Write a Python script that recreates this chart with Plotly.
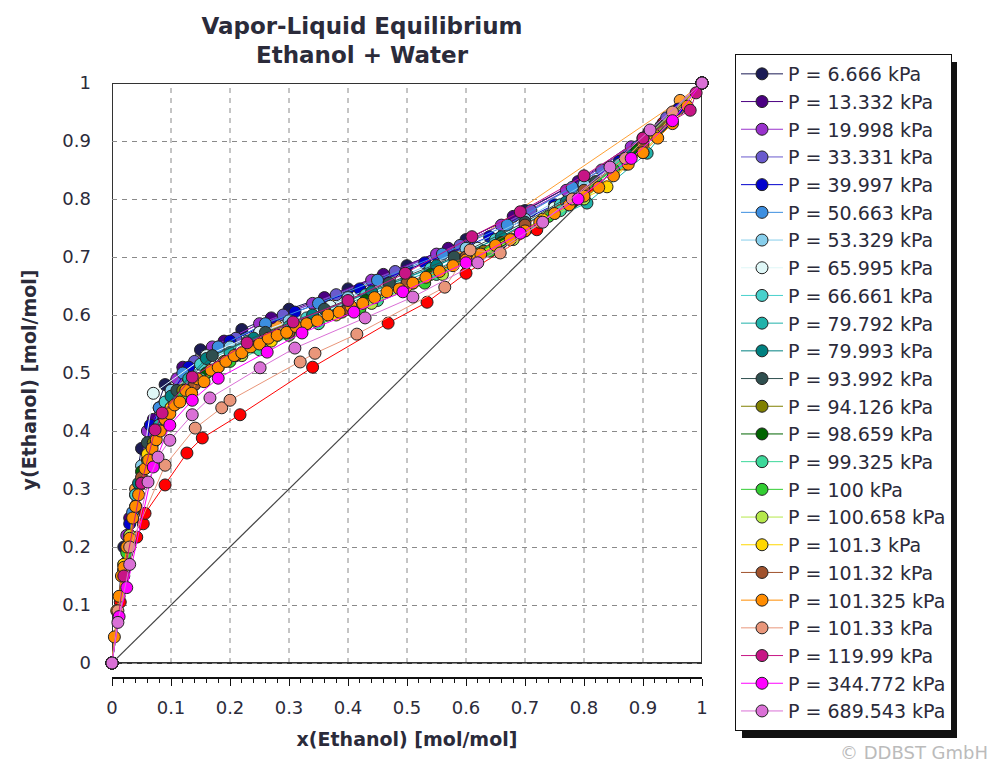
import plotly.graph_objects as go

# ---------------- data ----------------
pressures = ["6.666", "13.332", "19.998", "33.331", "39.997", "50.663", "53.329", "65.995",
             "66.661", "79.792", "79.993", "93.992", "94.126", "98.659", "99.325", "100",
             "100.658", "101.3", "101.32", "101.325", "101.33", "119.99", "344.772", "689.543"]

colors = ["#1b1b55", "#4b0082", "#9932cc", "#6a5acd", "#0000cd", "#3c8ee0", "#87ceeb", "#dff7f7",
          "#48d1cc", "#20b2aa", "#008080", "#2f4f4f", "#808000", "#006400", "#3cd89a", "#32cd32",
          "#b5e84a", "#ffd700", "#a0522d", "#ff8c00", "#e9967a", "#c71585", "#ff00ff", "#da70d6"]

x_data = [
    [0.0, 0.02, 0.05, 0.09, 0.15, 0.22, 0.30, 0.40, 0.50, 0.60, 0.70, 0.80, 0.90, 1.0],
    [0.0, 0.03, 0.07, 0.12, 0.19, 0.27, 0.36, 0.46, 0.57, 0.68, 0.79, 0.91, 1.0],
    [0.0, 0.025, 0.06, 0.11, 0.17, 0.25, 0.34, 0.44, 0.55, 0.66, 0.77, 0.88, 1.0],
    [0.0, 0.04, 0.08, 0.14, 0.21, 0.29, 0.38, 0.48, 0.59, 0.71, 0.83, 0.94, 1.0],
    [0.0, 0.03, 0.065, 0.13, 0.20, 0.31, 0.42, 0.53, 0.64, 0.75, 0.86, 0.96, 1.0],
    [0.0, 0.035, 0.08, 0.12, 0.18, 0.26, 0.35, 0.45, 0.56, 0.67, 0.78, 0.89, 1.0],
    [0.0, 0.05, 0.10, 0.20, 0.30, 0.40, 0.50, 0.60, 0.70, 0.80, 0.90, 1.0],
    [0.0, 0.07, 0.16, 0.25, 0.37, 0.49, 0.62, 0.75, 0.87, 1.0],
    [0.0, 0.04, 0.09, 0.15, 0.23, 0.33, 0.43, 0.54, 0.65, 0.76, 0.87, 1.0],
    [0.0, 0.03, 0.08, 0.13, 0.20, 0.30, 0.40, 0.50, 0.60, 0.70, 0.805, 0.907, 1.0],
    [0.0, 0.045, 0.10, 0.16, 0.24, 0.34, 0.44, 0.55, 0.66, 0.77, 0.88, 1.0],
    [0.0, 0.02, 0.06, 0.11, 0.17, 0.26, 0.36, 0.47, 0.58, 0.70, 0.82, 0.93, 1.0],
    [0.0, 0.03, 0.07, 0.12, 0.19, 0.28, 0.39, 0.51, 0.63, 0.75, 0.87, 1.0],
    [0.0, 0.02, 0.05, 0.10, 0.16, 0.24, 0.33, 0.43, 0.54, 0.66, 0.78, 0.89, 1.0],
    [0.0, 0.04, 0.09, 0.15, 0.25, 0.35, 0.45, 0.55, 0.65, 0.76, 0.86, 1.0],
    [0.0, 0.025, 0.06, 0.12, 0.20, 0.30, 0.42, 0.53, 0.64, 0.74, 0.85, 1.0],
    [0.0, 0.03, 0.08, 0.14, 0.22, 0.32, 0.44, 0.56, 0.68, 0.80, 0.90, 1.0],
    [0.0, 0.02, 0.06, 0.10, 0.18, 0.27, 0.38, 0.50, 0.62, 0.73, 0.839, 0.92, 1.0],
    [0.0, 0.02, 0.05, 0.09, 0.14, 0.21, 0.30, 0.40, 0.50, 0.60, 0.70, 0.80, 0.90, 1.0],
    [0.0, 0.004, 0.008, 0.012, 0.016, 0.02, 0.025, 0.03, 0.035, 0.04, 0.045, 0.05, 0.056,
     0.062, 0.068, 0.075, 0.082, 0.09, 0.098, 0.106, 0.115, 0.125, 0.135, 0.145, 0.156,
     0.168, 0.18, 0.193, 0.207, 0.22, 0.235, 0.25, 0.265, 0.28, 0.296, 0.312, 0.33, 0.348,
     0.366, 0.385, 0.405, 0.425, 0.445, 0.466, 0.487, 0.51, 0.532, 0.555, 0.578, 0.60,
     0.625, 0.65, 0.675, 0.70, 0.725, 0.75, 0.775, 0.80, 0.825, 0.85, 0.875, 0.90, 0.925,
     0.95, 0.975, 1.0],
    [0.0, 0.01, 0.03, 0.09, 0.141, 0.186, 0.20, 0.319, 0.344, 0.415, 0.564, 0.607, 0.658,
     0.78, 0.87, 0.95, 1.0],
    [0.0, 0.02, 0.05, 0.073, 0.085, 0.136, 0.229, 0.307, 0.40, 0.497, 0.61, 0.692, 0.80,
     0.90, 0.98, 0.99, 1.0],
    [0.0, 0.012, 0.025, 0.07, 0.098, 0.136, 0.18, 0.263, 0.322, 0.41, 0.493, 0.60, 0.692,
     0.79, 0.88, 0.95, 1.0],
    [0.0, 0.01, 0.03, 0.061, 0.078, 0.098, 0.136, 0.166, 0.251, 0.31, 0.429, 0.51, 0.62,
     0.73, 0.844, 0.912, 1.0],
]

y_data = [
    [0.0, 0.20, 0.37, 0.48, 0.54, 0.575, 0.61, 0.645, 0.685, 0.73, 0.78, 0.835, 0.905, 1.0],
    [0.0, 0.25, 0.42, 0.51, 0.555, 0.595, 0.63, 0.67, 0.715, 0.77, 0.83, 0.915, 1.0],
    [0.0, 0.22, 0.40, 0.49, 0.545, 0.585, 0.62, 0.66, 0.705, 0.755, 0.815, 0.89, 1.0],
    [0.0, 0.29, 0.44, 0.52, 0.56, 0.60, 0.635, 0.675, 0.72, 0.78, 0.85, 0.94, 1.0],
    [0.0, 0.24, 0.41, 0.51, 0.555, 0.605, 0.645, 0.69, 0.735, 0.79, 0.865, 0.955, 1.0],
    [0.0, 0.26, 0.44, 0.50, 0.545, 0.585, 0.62, 0.66, 0.705, 0.755, 0.82, 0.89, 1.0],
    [0.0, 0.34, 0.47, 0.545, 0.59, 0.63, 0.67, 0.715, 0.765, 0.825, 0.90, 1.0],
    [0.0, 0.465, 0.53, 0.57, 0.615, 0.66, 0.715, 0.785, 0.87, 1.0],
    [0.0, 0.29, 0.45, 0.515, 0.555, 0.595, 0.635, 0.68, 0.73, 0.79, 0.865, 1.0],
    [0.0, 0.22, 0.41, 0.49, 0.535, 0.58, 0.62, 0.66, 0.70, 0.745, 0.793, 0.879, 1.0],
    [0.0, 0.31, 0.46, 0.525, 0.56, 0.60, 0.64, 0.685, 0.735, 0.795, 0.875, 1.0],
    [0.0, 0.17, 0.38, 0.47, 0.53, 0.57, 0.61, 0.655, 0.70, 0.76, 0.83, 0.925, 1.0],
    [0.0, 0.21, 0.38, 0.47, 0.52, 0.565, 0.605, 0.655, 0.71, 0.775, 0.86, 1.0],
    [0.0, 0.16, 0.33, 0.44, 0.50, 0.545, 0.585, 0.625, 0.67, 0.725, 0.795, 0.885, 1.0],
    [0.0, 0.27, 0.42, 0.49, 0.54, 0.585, 0.625, 0.67, 0.715, 0.78, 0.86, 1.0],
    [0.0, 0.19, 0.35, 0.46, 0.52, 0.565, 0.61, 0.655, 0.71, 0.77, 0.85, 1.0],
    [0.0, 0.22, 0.40, 0.48, 0.53, 0.575, 0.62, 0.67, 0.73, 0.80, 0.88, 1.0],
    [0.0, 0.17, 0.36, 0.44, 0.51, 0.555, 0.60, 0.65, 0.705, 0.765, 0.821, 0.91, 1.0],
    [0.0, 0.16, 0.32, 0.42, 0.48, 0.53, 0.57, 0.61, 0.655, 0.70, 0.755, 0.815, 0.895, 1.0],
    [0.0, 0.045, 0.09, 0.115, 0.15, 0.165, 0.20, 0.215, 0.25, 0.27, 0.29, 0.31, 0.335,
     0.35, 0.37, 0.385, 0.40, 0.42, 0.43, 0.445, 0.45, 0.47, 0.465, 0.49, 0.485, 0.505,
     0.51, 0.52, 0.53, 0.535, 0.545, 0.55, 0.56, 0.565, 0.57, 0.58, 0.585, 0.59, 0.60,
     0.605, 0.615, 0.62, 0.63, 0.64, 0.645, 0.655, 0.665, 0.675, 0.685, 0.695, 0.705, 0.72,
     0.73, 0.745, 0.76, 0.775, 0.79, 0.805, 0.82, 0.84, 0.86, 0.88, 0.905, 0.93, 0.96, 1.0],
    [0.0, 0.09, 0.20, 0.341, 0.405, 0.44, 0.453, 0.519, 0.534, 0.567, 0.648, 0.712, 0.707,
     0.80, 0.87, 0.95, 1.0],
    [0.0, 0.15, 0.31, 0.402, 0.431, 0.493, 0.552, 0.588, 0.625, 0.672, 0.735, 0.778, 0.84,
     0.905, 0.953, 0.983, 1.0],
    [0.0, 0.08, 0.13, 0.338, 0.41, 0.453, 0.491, 0.536, 0.569, 0.605, 0.64, 0.69, 0.741,
     0.80, 0.87, 0.935, 1.0],
    [0.0, 0.07, 0.17, 0.312, 0.355, 0.384, 0.428, 0.457, 0.509, 0.543, 0.595, 0.631, 0.69,
     0.76, 0.855, 0.919, 1.0],
]

# series not listed in the visible part of the legend
extra_colors = ["#ff0000", "#ffa033"]
extra_x = [
    [0.0, 0.014, 0.042, 0.053, 0.056, 0.09, 0.127, 0.153, 0.217, 0.34, 0.468, 0.534, 0.60,
     0.72, 0.807, 0.88, 0.934],
    [0.0, 0.04, 0.12, 0.28, 0.45, 0.59, 0.963, 1.0],
]
extra_y = [
    [0.0, 0.105, 0.217, 0.24, 0.258, 0.307, 0.362, 0.388, 0.428, 0.51, 0.586, 0.622, 0.672,
     0.747, 0.82, 0.88, 0.931],
    [0.0, 0.30, 0.48, 0.58, 0.66, 0.712, 0.97, 1.0],
]

diag_x = [0, 1]
diag_y = [0, 1]

tick_vals = [0, 0.1, 0.2, 0.3, 0.4, 0.5, 0.6, 0.7, 0.8, 0.9, 1]
tick_text = ["0", "0.1", "0.2", "0.3", "0.4", "0.5", "0.6", "0.7", "0.8", "0.9", "1"]

FONT = "DejaVu Sans, Verdana, sans-serif"
TXT = "#2b2b3a"

# page body has an 8px margin; layout coordinates below are in screen pixels
OFF = 8
L, R, T, B = 112 - OFF, 1002 - (702 - OFF), 83 - OFF, 765 - (677 - OFF)
PW, PH = 590, 594


def px(sx):
    return (sx - 112) / PW


def py(sy):
    return (677 - sy) / PH


fig = go.Figure()

fig.add_trace(go.Scatter(x=diag_x, y=diag_y, mode="lines", showlegend=False,
                         line=dict(color="#444444", width=1.2), hoverinfo="skip"))

for xs, ys, c in zip(extra_x, extra_y, extra_colors):
    fig.add_trace(go.Scatter(x=xs, y=ys, mode="lines+markers", showlegend=False,
                             line=dict(color=c, width=1),
                             marker=dict(color=c, size=12, line=dict(color="#222222", width=1)),
                             cliponaxis=False))

for p, c, xs, ys in zip(pressures, colors, x_data, y_data):
    fig.add_trace(go.Scatter(x=xs, y=ys, mode="lines+markers", name=f"P = {p} kPa",
                             line=dict(color=c, width=1),
                             marker=dict(color=c, size=12, line=dict(color="#222222", width=1)),
                             cliponaxis=False))

shapes = []
for v in tick_vals[1:-1]:
    shapes.append(dict(type="line", xref="x", yref="y", x0=v, x1=v, y0=0, y1=1,
                       line=dict(color="#8a8a8a", width=1, dash="5px,5px"), layer="below"))
shapes.append(dict(type="rect", xref="x", yref="y", x0=0, x1=1, y0=0, y1=1,
                   line=dict(color="#333333", width=2), layer="below"))
# legend shadow
shapes.append(dict(type="rect", xref="paper", yref="paper",
                   x0=px(742), x1=px(957), y0=py(738), y1=py(62),
                   fillcolor="#111111", line=dict(width=0), layer="above"))

fig.update_layout(
    width=1002, height=765,
    margin=dict(l=L, r=R, t=T, b=B, autoexpand=False),
    paper_bgcolor="white", plot_bgcolor="white",
    font=dict(family=FONT, color=TXT, size=18),
    title=dict(text="<b>Vapor-Liquid Equilibrium<br>Ethanol + Water</b>",
               x=(362 - OFF) / 1002, xanchor="center", y=1 - 25.5 / 765, yanchor="middle",
               font=dict(size=23, color=TXT, family=FONT)),
    xaxis=dict(range=[0, 1], tickvals=tick_vals, ticktext=tick_text, showgrid=False,
               automargin=False,
               zeroline=False, showline=True, linecolor="#111111", linewidth=2,
               ticks="outside", ticklen=7, tickcolor="#111111", tickwidth=1,
               ticklabelstandoff=6,
               minor=dict(ticks="outside", ticklen=4, dtick=0.02, tickcolor="#111111",
                          showgrid=False),
               tickfont=dict(size=18, color=TXT),
               title=dict(text="<b>x(Ethanol) [mol/mol]</b>", font=dict(size=19, color=TXT),
                          standoff=16)),
    yaxis=dict(range=[-14 / 580, 1.0], tickvals=tick_vals, ticktext=tick_text, showgrid=True,
               automargin=False,
               gridcolor="#8a8a8a", griddash="5px,5px", gridwidth=1,
               zeroline=False, showline=False, ticks="", ticklabelstandoff=20,
               tickfont=dict(size=18, color=TXT),
               title=dict(text="<b>y(Ethanol) [mol/mol]</b>", font=dict(size=19, color=TXT),
                          standoff=20)),
    legend=dict(x=px(735), y=py(54), xanchor="left", yanchor="top",
                bgcolor="white", bordercolor="#111111", borderwidth=1,
                font=dict(size=19, color=TXT, family=FONT), tracegroupgap=0,
                itemwidth=42, maxheight=730),
    shapes=shapes,
    annotations=[dict(text="© DDBST GmbH", xref="paper", yref="paper",
                      x=px(990), y=py(752), xanchor="right",
                      yanchor="middle", showarrow=False,
                      font=dict(size=18, color="#bbbbbb", family=FONT))],
)

fig.write_html("out.html")
